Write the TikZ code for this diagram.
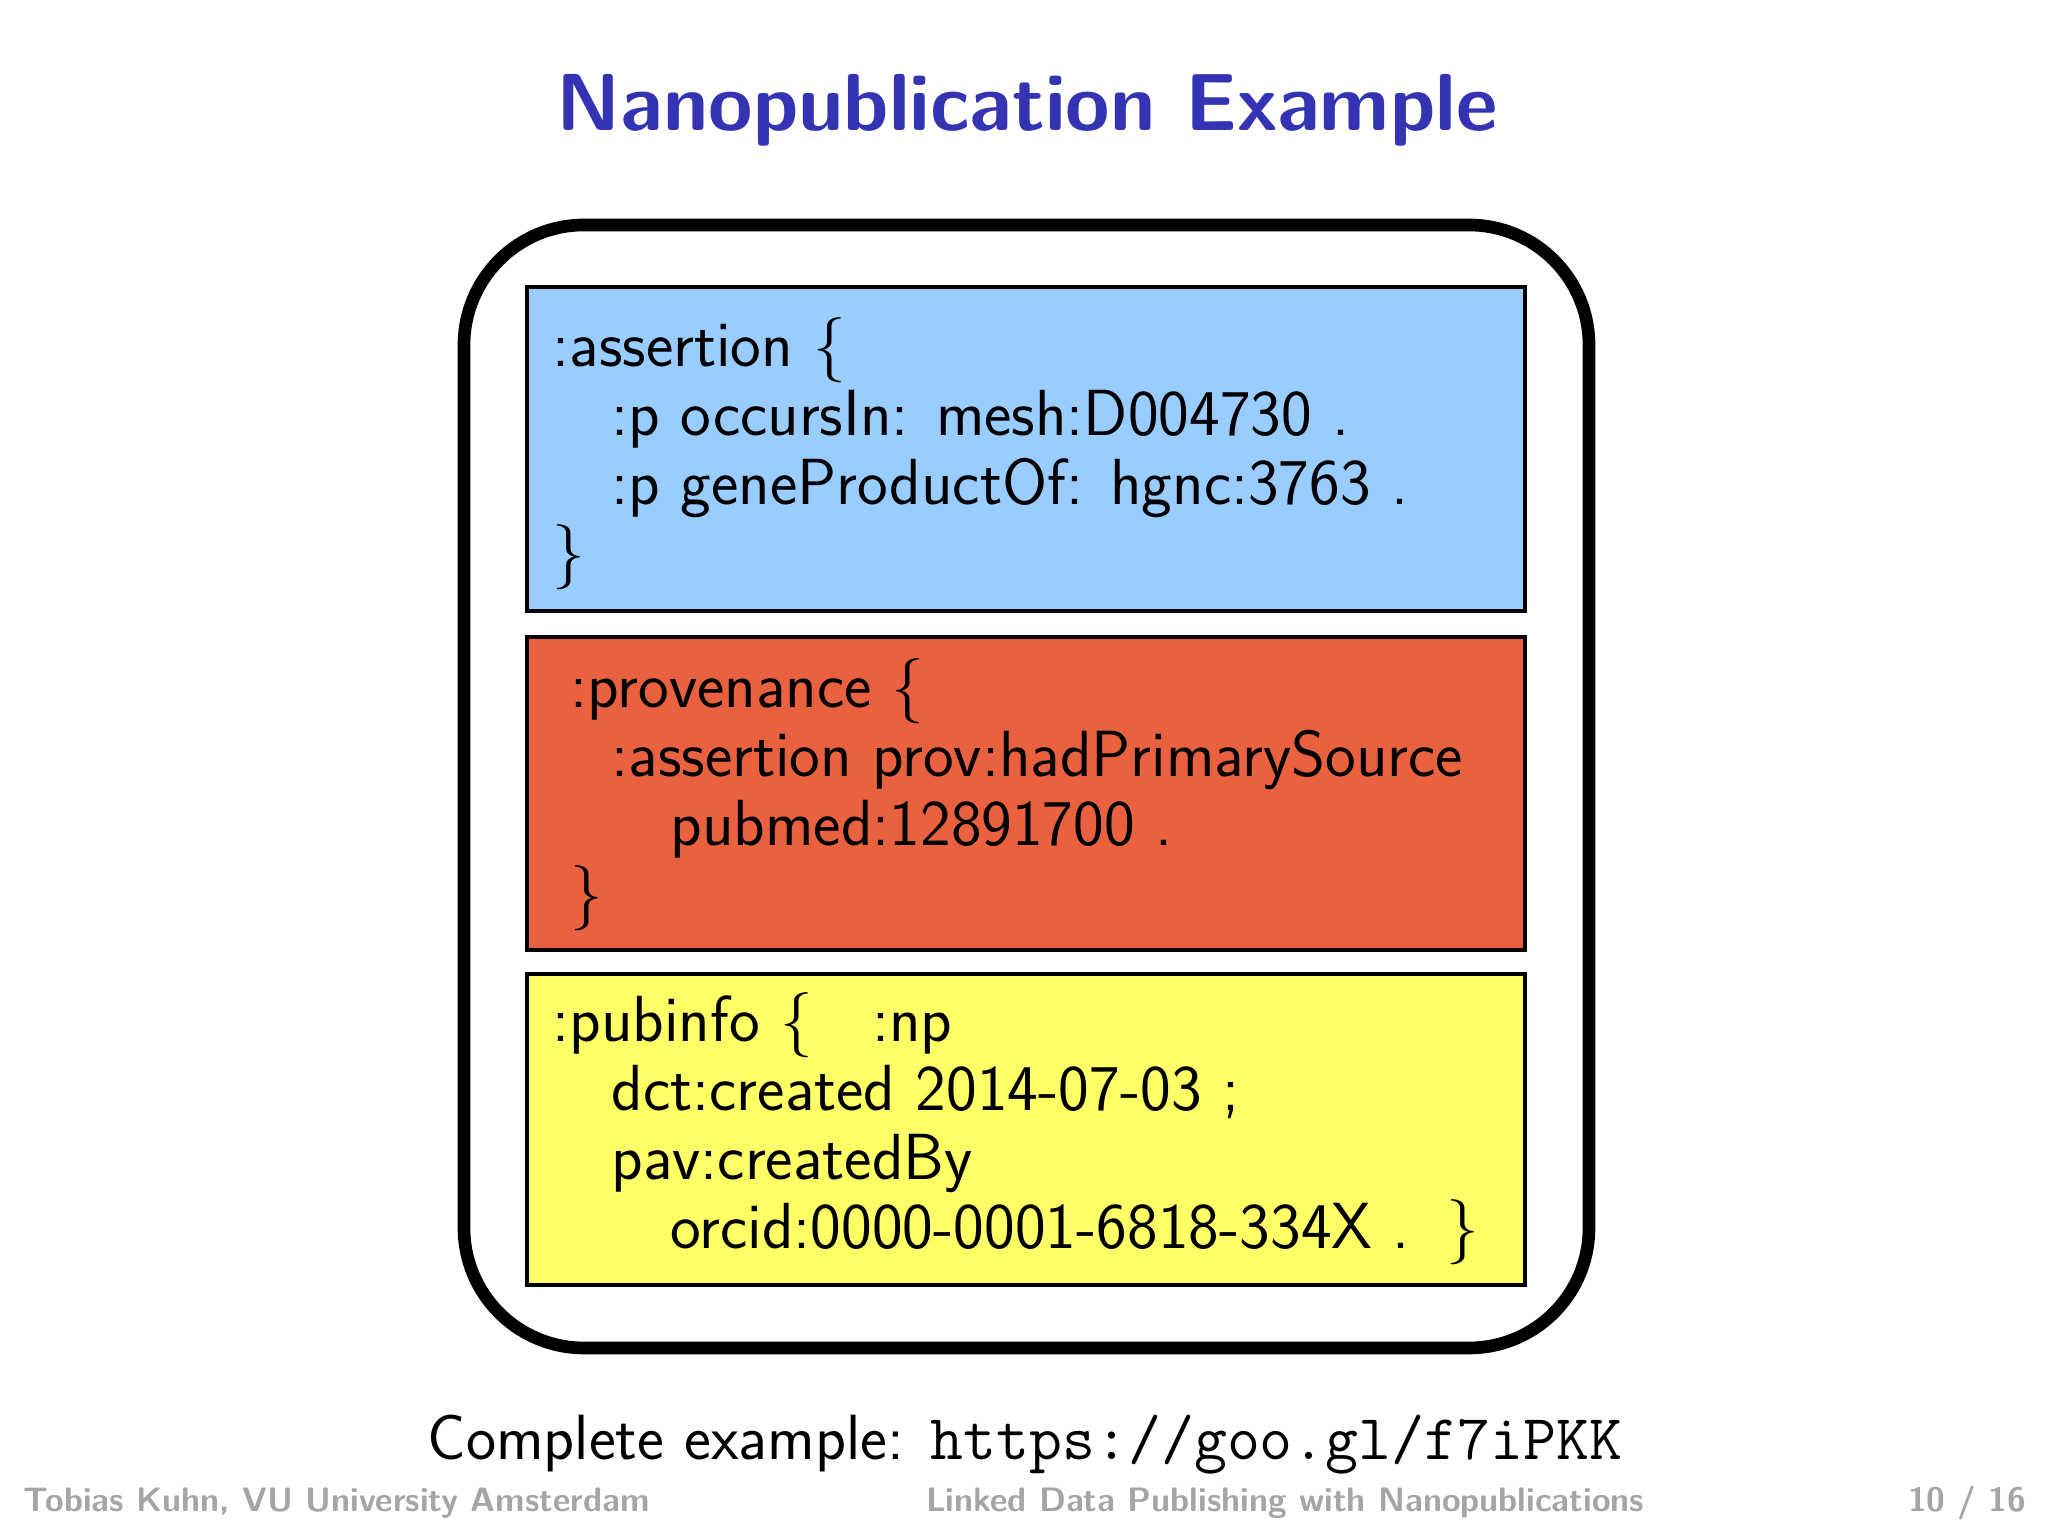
\documentclass[tikz,border=0pt]{standalone}
\usepackage{tikz}

\definecolor{structblue}{RGB}{51,51,179}
\definecolor{assertblue}{RGB}{153,204,255}
\definecolor{provred}{RGB}{233,97,62}
\definecolor{infoyellow}{RGB}{255,255,102}
\definecolor{footgray}{RGB}{165,165,165}

\begin{document}
\begin{tikzpicture}[
  graph/.style={draw=black, line width=1pt},
  triples/.style={anchor=base west, inner sep=0pt, align=left, font=\sffamily\fontsize{18.55}{19.7}\selectfont},
  foot/.style={anchor=base, inner sep=0pt, text=footgray, font=\sffamily\bfseries\fontsize{9.65}{11}\selectfont}
]
  \useasboundingbox (0,0) rectangle (20.48,15.36);
  % Title
  \node[anchor=base, inner sep=0pt, text=structblue, font=\sffamily\bfseries\fontsize{23}{28}\selectfont] (title) at (10.27,14.05) {Nanopublication Example};
  % Nanopublication frame
  \draw[line width=3.6pt, rounded corners=1.2cm] (4.64,1.88) rectangle (15.89,13.11);
  % The three graphs
  \draw[graph, fill=assertblue] (5.27,9.25) rectangle (15.25,12.49);
  \draw[graph, fill=provred] (5.27,5.86) rectangle (15.25,8.99);
  \draw[graph, fill=infoyellow] (5.27,2.51) rectangle (15.25,5.62);
  % Assertion graph (node base = last line)
  \node[triples] (assertion) at (5.52,9.62) {%
    :assertion \{\\
    \hspace{0.59cm}:p occursIn: mesh:D004730 .\\
    \hspace{0.59cm}:p geneProductOf: hgnc:3763 .\\
    \}};
  % Provenance graph
  \node[triples] (provenance) at (5.52,6.21) {%
    \hspace{0.18cm}:provenance \{\\
    \hspace{0.59cm}:assertion prov:hadPrimarySource\\
    \hspace{1.18cm}pubmed:12891700 .\\
    \hspace{0.18cm}\}};
  % Publication info graph
  \node[triples] (pubinfo) at (5.52,2.87) {%
    :pubinfo \{ \hspace{0.6em}:np\\
    \hspace{0.59cm}dct:created 2014-07-03 ;\\
    \hspace{0.59cm}pav:createdBy\\
    \hspace{1.18cm}orcid:0000-0001-6818-334X . \hspace{0.25em}\}};
  % Link below the frame
  \node[anchor=base, inner sep=0pt, font=\sffamily\fontsize{18.2}{20}\selectfont] (link) at (10.25,0.76) {Complete example: \texttt{https://goo.gl/f7iPKK}};
  % Footline
  \node[foot, anchor=base west] (author) at (0.23,0.24) {Tobias Kuhn, VU University Amsterdam};
  \node[foot] (talk) at (12.85,0.24) {Linked Data Publishing with Nanopublications};
  \node[foot, anchor=base east] (page) at (20.27,0.24) {10 / 16};
\end{tikzpicture}
\end{document}
